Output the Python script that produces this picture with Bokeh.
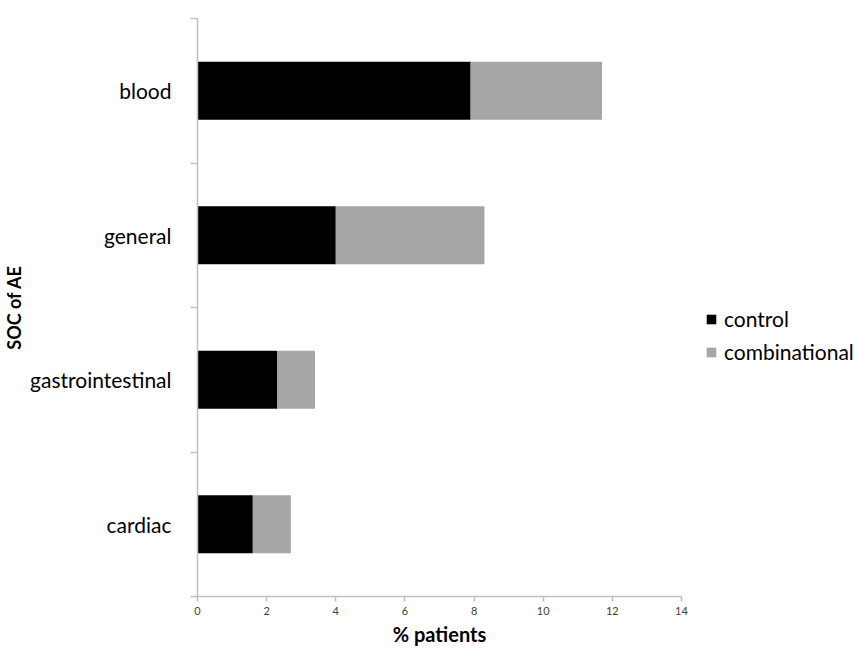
from bokeh.plotting import figure
from bokeh.models import Range1d, FixedTicker, Legend, LegendItem, ColumnDataSource
from bokeh.embed import file_html
from bokeh.resources import INLINE

# ---- data (bottom to top) ----
categories = ["cardiac", "gastrointestinal", "general", "blood"]
control = [1.6, 2.3, 4.0, 7.9]
combinational = [1.1, 1.1, 4.3, 3.8]
x_ticks = [0, 2, 4, 6, 8, 10, 12, 14]
series_names = ["control", "combinational"]
series_colors = ["#000000", "#a6a6a6"]

FONT = "Lato"
AXIS_GRAY = "#bfbfbf"

centers = [i + 0.5 for i in range(len(categories))]
boundaries = [float(i) for i in range(len(categories) + 1)]

src = ColumnDataSource(dict(y=centers, control=control, combinational=combinational))

p = figure(frame_width=484, frame_height=578, output_backend="svg", toolbar_location=None,
           x_range=Range1d(0, 14), y_range=Range1d(0, len(categories)),
           min_border_left=196, min_border_right=0, min_border_top=18,
           min_border_bottom=0)

renderers = p.hbar_stack(series_names, y="y", height=0.4, source=src,
                         color=series_colors, line_color=None)

p.xgrid.visible = False
p.ygrid.visible = False
p.outline_line_color = None
p.background_fill_color = "white"
p.border_fill_color = "white"

# x axis
xa = p.xaxis[0]
xa.ticker = FixedTicker(ticks=x_ticks, minor_ticks=[])
xa.axis_line_color = AXIS_GRAY
xa.axis_line_width = 1.5
xa.major_tick_line_color = AXIS_GRAY
xa.major_tick_line_width = 1.5
xa.major_tick_out = 5
xa.major_tick_in = 0
xa.minor_tick_line_color = None
xa.major_label_text_font = FONT
xa.major_label_text_font_size = "11px"
xa.major_label_text_color = "#404040"
xa.major_label_standoff = 5
xa.axis_label = "% patients"
xa.axis_label_text_font = FONT
xa.axis_label_text_font_size = "20px"
xa.axis_label_text_font_style = "bold"
xa.axis_label_text_color = "#000000"
xa.axis_label_standoff = 4

# y axis: labels at category centers, tick marks at boundaries
ya = p.yaxis[0]
ya.ticker = FixedTicker(ticks=centers, minor_ticks=boundaries)
ya.major_label_overrides = {c: name for c, name in zip(centers, categories)}
ya.axis_line_color = AXIS_GRAY
ya.axis_line_width = 1.5
ya.major_tick_line_color = None
ya.major_tick_out = 0
ya.major_tick_in = 0
ya.minor_tick_line_color = AXIS_GRAY
ya.minor_tick_line_width = 1.5
ya.minor_tick_out = 7
ya.minor_tick_in = 0
ya.major_label_text_font = FONT
ya.major_label_text_font_size = "21px"
ya.major_label_text_color = "#000000"
ya.major_label_standoff = 19
ya.axis_label = "SOC of AE"
ya.axis_label_text_font = FONT
ya.axis_label_text_font_size = "18px"
ya.axis_label_text_font_style = "bold"
ya.axis_label_text_color = "#000000"
ya.axis_label_standoff = 2

legend = Legend(items=[LegendItem(label=n, renderers=[r]) for n, r in zip(series_names, renderers)],
                location=(24, 232), border_line_color=None, background_fill_alpha=0,
                label_text_font=FONT, label_text_font_size="21px", label_text_color="#000000",
                glyph_width=12, glyph_height=12, label_standoff=7, spacing=8,
                padding=0, margin=0)
p.add_layout(legend, "right")

open("out.html", "w").write(file_html(p, INLINE))
